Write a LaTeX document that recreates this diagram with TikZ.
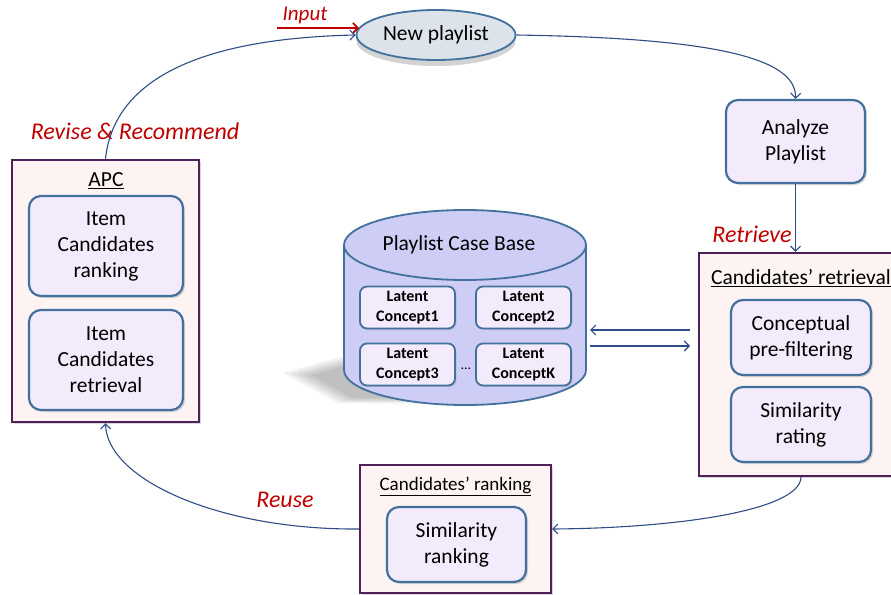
\documentclass[tikz,border=0pt]{standalone}
\usepackage{fontspec}
\setmainfont{Carlito}
\usetikzlibrary{shapes.geometric,arrows.meta,shadows}

\definecolor{boxblue}{HTML}{41719C}
\definecolor{boxfill}{HTML}{F3EBFB}
\definecolor{framepurple}{HTML}{4F1F5A}
\definecolor{framefill}{HTML}{FDF3F3}
\definecolor{linkblue}{HTML}{2E4C86}
\definecolor{labelred}{HTML}{C00000}
\definecolor{dbfill}{HTML}{CDCDF5}
\definecolor{ovalfill}{HTML}{DDE3EA}

\tikzset{
  stepbox/.style={draw=boxblue, line width=2.2pt, fill=boxfill, rounded corners=12pt,
    align=center, inner sep=0pt, font=\fontsize{21.5}{26}\selectfont,
    drop shadow={opacity=0.3, shadow xshift=2pt, shadow yshift=-2pt}},
  latentbox/.style={draw=boxblue, line width=1.8pt, fill=boxfill, rounded corners=7pt,
    align=center, inner sep=0pt, minimum width=95pt, minimum height=42pt,
    font=\fontsize{16}{20}\selectfont\bfseries,
    drop shadow={opacity=0.25, shadow xshift=1.5pt, shadow yshift=-1.5pt}},
  stageframe/.style={draw=framepurple, line width=2.4pt, fill=framefill, inner sep=0pt,
    drop shadow={opacity=0.3, shadow xshift=2pt, shadow yshift=-2pt}},
  stagetitle/.style={inner sep=0pt, font=\fontsize{21.5}{24}\selectfont},
  phaselabel/.style={inner sep=0pt, text=labelred, font=\fontsize{24}{28}\selectfont\itshape},
  dbbody/.style={draw=boxblue, line width=1.8pt, fill=dbfill},
  conn/.style={draw=linkblue, line width=1.1pt, -{Straight Barb[length=5pt,width=10pt]}},
  inarrow/.style={draw=labelred, line width=1.6pt, -{Straight Barb[length=5pt,width=10pt]}},
}

\begin{document}
\begin{tikzpicture}
    \pgfsetxvec{\pgfpoint{1pt}{0}}
    \pgfsetyvec{\pgfpoint{0}{-1pt}}
    \useasboundingbox (0,0) rectangle (891,594);
    \clip (0,0) rectangle (891,594);

    % new playlist and input
    \node[ellipse, draw=boxblue, line width=1.8pt, fill=ovalfill, minimum width=153pt,
      minimum height=50pt, font=\fontsize{21.5}{24}\selectfont,
      drop shadow={opacity=0.35, shadow xshift=0pt, shadow yshift=-6pt}]
      (newpl) at (436,35) {New playlist};
    \node[phaselabel, font=\fontsize{21}{24}\selectfont\itshape] (inputL) at (305,15) {Input};
    \coordinate (inS) at (277,28);
    \coordinate (inE) at (359,28);
    \draw[inarrow] (inS) -- (inE);

    \node[stepbox, minimum width=139pt, minimum height=83pt] (analyze) at (795.5,141.5) {Analyze\\Playlist};

    % candidates' retrieval
    \node[stageframe, minimum width=204pt, minimum height=223pt] (retr) at (801,364.5) {};
    \node[stagetitle] (retrT) at (801,278) {\underline{Candidates’ retrieval}};
    \node[stepbox, minimum width=140pt, minimum height=75pt] (prefilt) at (801,337.5) {Conceptual\\pre-filtering};
    \node[stepbox, minimum width=140pt, minimum height=75pt] (simrate) at (801,424.5) {Similarity\\rating};
    \node[phaselabel] (retrL) at (752,234) {Retrieve};

    % case base
    \foreach \s in {1.0,0.94,0.88,0.82,0.76} {
      \fill[black, fill opacity=0.055, shift={(400,382)}, scale=\s]
        (-117,-9) -- (-52,-27) -- (80,-20) -- (80,22) -- (-62,21) -- cycle;
    }
    \filldraw[dbbody] (344,245) -- (344,370)
      arc[start angle=180, end angle=360, x radius=121pt, y radius=35pt] -- (586,245)
      arc[start angle=0, end angle=180, x radius=121pt, y radius=35pt] -- cycle;
    \draw[dbbody] (344,245) arc[start angle=180, end angle=360, x radius=121pt, y radius=35pt];
    \node[stagetitle] (cbase) at (459,245) {Playlist Case Base};
    \foreach \n/\x/\y in {1/407.5/307.5, 2/523.5/307.5, 3/407.5/364.5, K/523.5/364.5} {
      \node[latentbox] (lat\n) at (\x,\y) {Latent\\Concept\n};
    }
    \node[inner sep=0pt, font=\fontsize{14}{16}\selectfont] (dots) at (466,369) {\ldots};
    \coordinate (dbA) at (590,330);
    \coordinate (dbB) at (590,346);
    \coordinate (rtA) at (690,330);
    \coordinate (rtB) at (690,346);
    \draw[conn] (rtA) -- (dbA);
    \draw[conn] (dbB) -- (rtB);

    % candidates' ranking
    \node[stageframe, minimum width=191pt, minimum height=128pt] (rank) at (455.5,529) {};
    \node[stagetitle, font=\fontsize{19}{22}\selectfont] (rankT) at (455.5,486) {\underline{Candidates’ ranking}};
    \node[stepbox, minimum width=139pt, minimum height=75pt] (simrank) at (456.5,544.5) {Similarity\\ranking};
    \node[phaselabel] (reuseL) at (285,500) {Reuse};

    % APC
    \node[stageframe, minimum width=187pt, minimum height=262pt] (apc) at (105.5,291) {};
    \node[stagetitle] (apcT) at (106,181) {\underline{APC}};
    \node[stepbox, minimum width=154pt, minimum height=100pt] (itemrank) at (106,246) {Item\\Candidates\\ranking};
    \node[stepbox, minimum width=154pt, minimum height=100pt] (itemretr) at (106,360) {Item\\Candidates\\retrieval};
    \node[phaselabel] (reviseL) at (135,131) {Revise \& Recommend};

    % cycle
    \draw[conn] (newpl.east) .. controls (700,38) and (797,55) .. (analyze.north);
    \draw[conn] (analyze.south) -- (retr.north -| analyze.south);
    \draw[conn] (retr.south) .. controls (800,510) and (680,528) .. (rank.east);
    \draw[conn] (rank.west) .. controls (220,530) and (107,480) .. (apc.south);
    \draw[conn] (apc.north) .. controls (115,70) and (220,38) .. (newpl.west);
\end{tikzpicture}
\end{document}
